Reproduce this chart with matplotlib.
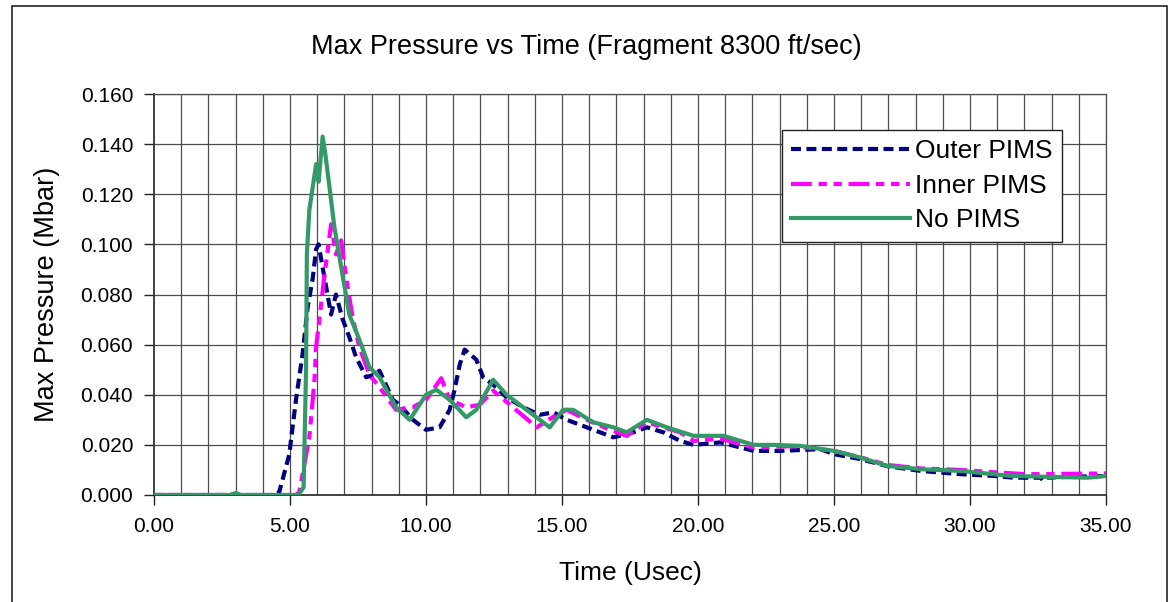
import matplotlib.pyplot as plt
from matplotlib.patches import Rectangle

plt.rcParams['font.family'] = ['Liberation Sans', 'DejaVu Sans']

# Outer PIMS (time in usec, pressure in Mbar)
outer_t = [0.0, 4.3, 4.6, 4.97, 5.22, 5.46, 5.65, 5.83, 5.96, 6.05, 6.18, 6.33, 6.51, 6.69,
           6.94, 7.18, 7.43, 7.8, 8.1, 8.29, 8.78, 9.03, 9.52, 10.0, 10.5, 10.87, 11.05,
           11.24, 11.42, 11.85, 12.1, 12.47, 12.96, 13.57, 14.19, 14.68, 15.17, 15.91,
           16.89, 17.62, 18.12, 18.73, 19.34, 19.84, 20.82, 22.05, 23.03, 24.5, 25.0,
           25.98, 26.96, 28.19, 29.66, 30.9, 31.6, 32.6, 32.7, 32.8, 33.5, 35.0]
outer_p = [0.0, 0.0, 0.001, 0.016, 0.038, 0.056, 0.075, 0.086, 0.098, 0.100, 0.092, 0.083,
           0.072, 0.080, 0.070, 0.063, 0.055, 0.047, 0.048, 0.0496, 0.038, 0.036, 0.030,
           0.026, 0.027, 0.034, 0.042, 0.052, 0.058, 0.054, 0.047, 0.044, 0.039, 0.035,
           0.032, 0.033, 0.030, 0.027, 0.023, 0.025, 0.027, 0.025, 0.0216, 0.020, 0.021,
           0.0176, 0.0176, 0.0183, 0.0163, 0.0143, 0.0115, 0.0096, 0.0083, 0.0076, 0.0069,
           0.0069, 0.0056, 0.0069, 0.0072, 0.0076]

# Inner PIMS
inner_t = [0.0, 5.2, 5.34, 5.71, 5.9, 5.96, 6.08, 6.26, 6.45, 6.51, 6.69, 6.88, 7.06, 7.3,
           7.55, 7.92, 8.29, 8.9, 9.52, 10.0, 10.56, 10.87, 11.48, 11.97, 12.47, 13.2,
           14.07, 14.8, 15.17, 15.91, 16.77, 17.38, 18.12, 18.85, 19.34, 19.84, 20.82,
           22.05, 23.5, 25.0, 25.98, 26.96, 28.19, 29.66, 31.0, 32.1, 35.0]
inner_p = [0.0, 0.0, 0.001, 0.023, 0.046, 0.059, 0.070, 0.087, 0.103, 0.108, 0.096, 0.1016,
           0.087, 0.071, 0.059, 0.048, 0.043, 0.034, 0.035, 0.038, 0.0466, 0.038, 0.035,
           0.036, 0.0416, 0.035, 0.027, 0.032, 0.034, 0.030, 0.026, 0.0236, 0.029, 0.0266,
           0.025, 0.0216, 0.0225, 0.0189, 0.0195, 0.0176, 0.0150, 0.0120, 0.0106, 0.0100,
           0.0090, 0.0083, 0.0086]

# No PIMS
none_t = [0.0, 2.8, 3.0, 3.2, 5.3, 5.5, 5.59, 5.62, 5.71, 5.96, 6.05, 6.2, 6.3, 6.45, 6.63,
          6.88, 7.18, 7.55, 7.92, 8.29, 8.9, 9.4, 10.0, 10.38, 10.87, 11.48, 11.85,
          12.47, 12.96, 13.45, 13.94, 14.55, 15.04, 15.41, 16.15, 16.89, 17.38, 18.12,
          18.85, 19.84, 20.94, 22.05, 22.78, 23.77, 25.0, 25.98, 26.96, 28.19, 29.66,
          31.5, 34.33, 35.0]
none_p = [0.0, 0.0, 0.0008, 0.0, 0.0, 0.003, 0.050, 0.096, 0.1136, 0.132, 0.125, 0.143,
          0.136, 0.123, 0.107, 0.091, 0.072, 0.062, 0.051, 0.047, 0.035, 0.030, 0.040,
          0.042, 0.038, 0.031, 0.034, 0.046, 0.040, 0.036, 0.032, 0.027, 0.034, 0.034,
          0.029, 0.027, 0.025, 0.030, 0.027, 0.0236, 0.0236, 0.020, 0.020, 0.0196,
          0.0176, 0.0149, 0.0116, 0.0103, 0.0096, 0.0076, 0.0069, 0.0076]

x_ticks = [0, 5, 10, 15, 20, 25, 30, 35]
y_ticks = [0.0, 0.02, 0.04, 0.06, 0.08, 0.10, 0.12, 0.14, 0.16]

fig = plt.figure(figsize=(11.72, 6.02), dpi=100)
fig.patches.append(Rectangle((12 / 1172, -0.01), 1155 / 1172, 1 - 6 / 602 + 0.01,
                             transform=fig.transFigure, fill=False,
                             edgecolor='#222222', linewidth=1.2))

ax = fig.add_axes([154 / 1172, 1 - 495 / 602, 952 / 1172, 401 / 602])

# grid every 1 usec and every 0.02 Mbar
for t in range(1, 36):
    ax.axvline(t, color='#4d4d4d', linewidth=0.9, zorder=1)
for p in y_ticks[1:]:
    ax.axhline(p, color='#4d4d4d', linewidth=0.9, zorder=1)

ax.plot(outer_t, outer_p, color='#000080', linewidth=3, linestyle=(0, (2.4, 1.3)),
        label='Outer PIMS', zorder=3)
ax.plot(inner_t, inner_p, color='#FF00FF', linewidth=3,
        linestyle=(0, (5, 1.6, 2, 1.6, 2, 1.6)), label='Inner PIMS', zorder=4)
ax.plot(none_t, none_p, color='#339966', linewidth=3, label='No PIMS', zorder=5)

ax.set_xlim(0, 35)
ax.set_ylim(0, 0.16)
ax.set_xticks(x_ticks)
ax.set_xticklabels([f'{t:.2f}' for t in x_ticks])
ax.set_yticks(y_ticks)
ax.set_yticklabels([f'{p:.3f}' for p in y_ticks])
ax.tick_params(axis='both', direction='out', length=7, width=1, labelsize=15,
               colors='#222222', labelcolor='black')
ax.tick_params(axis='x', pad=9)
ax.tick_params(axis='y', pad=8)

for side in ['top', 'right']:
    ax.spines[side].set_color('#4d4d4d')
    ax.spines[side].set_linewidth(0.9)
for side in ['left', 'bottom']:
    ax.spines[side].set_color('#333333')
    ax.spines[side].set_linewidth(1.3)

ax.set_xlabel('Time (Usec)', fontsize=19)
ax.xaxis.set_label_coords(0.5, -0.165)
ax.set_ylabel('Max Pressure (Mbar)', fontsize=19.5)
ax.yaxis.set_label_coords(-0.112, 0.5)
ax.yaxis.label.set_va('center')
fig.text(0.5, 1 - 47 / 602, 'Max Pressure vs Time (Fragment 8300 ft/sec)', ha='center',
         va='center', fontsize=19.5)

leg = ax.legend(loc='upper left', bbox_to_anchor=(0.6597, 0.91), fontsize=19,
                frameon=True, fancybox=False, handlelength=4.5, handletextpad=0.2,
                borderpad=0.35, labelspacing=0.4, borderaxespad=0)
leg.get_frame().set_edgecolor('#222222')
leg.get_frame().set_linewidth(1.0)
leg.get_frame().set_alpha(1.0)

fig.savefig('out.png', dpi=100)
